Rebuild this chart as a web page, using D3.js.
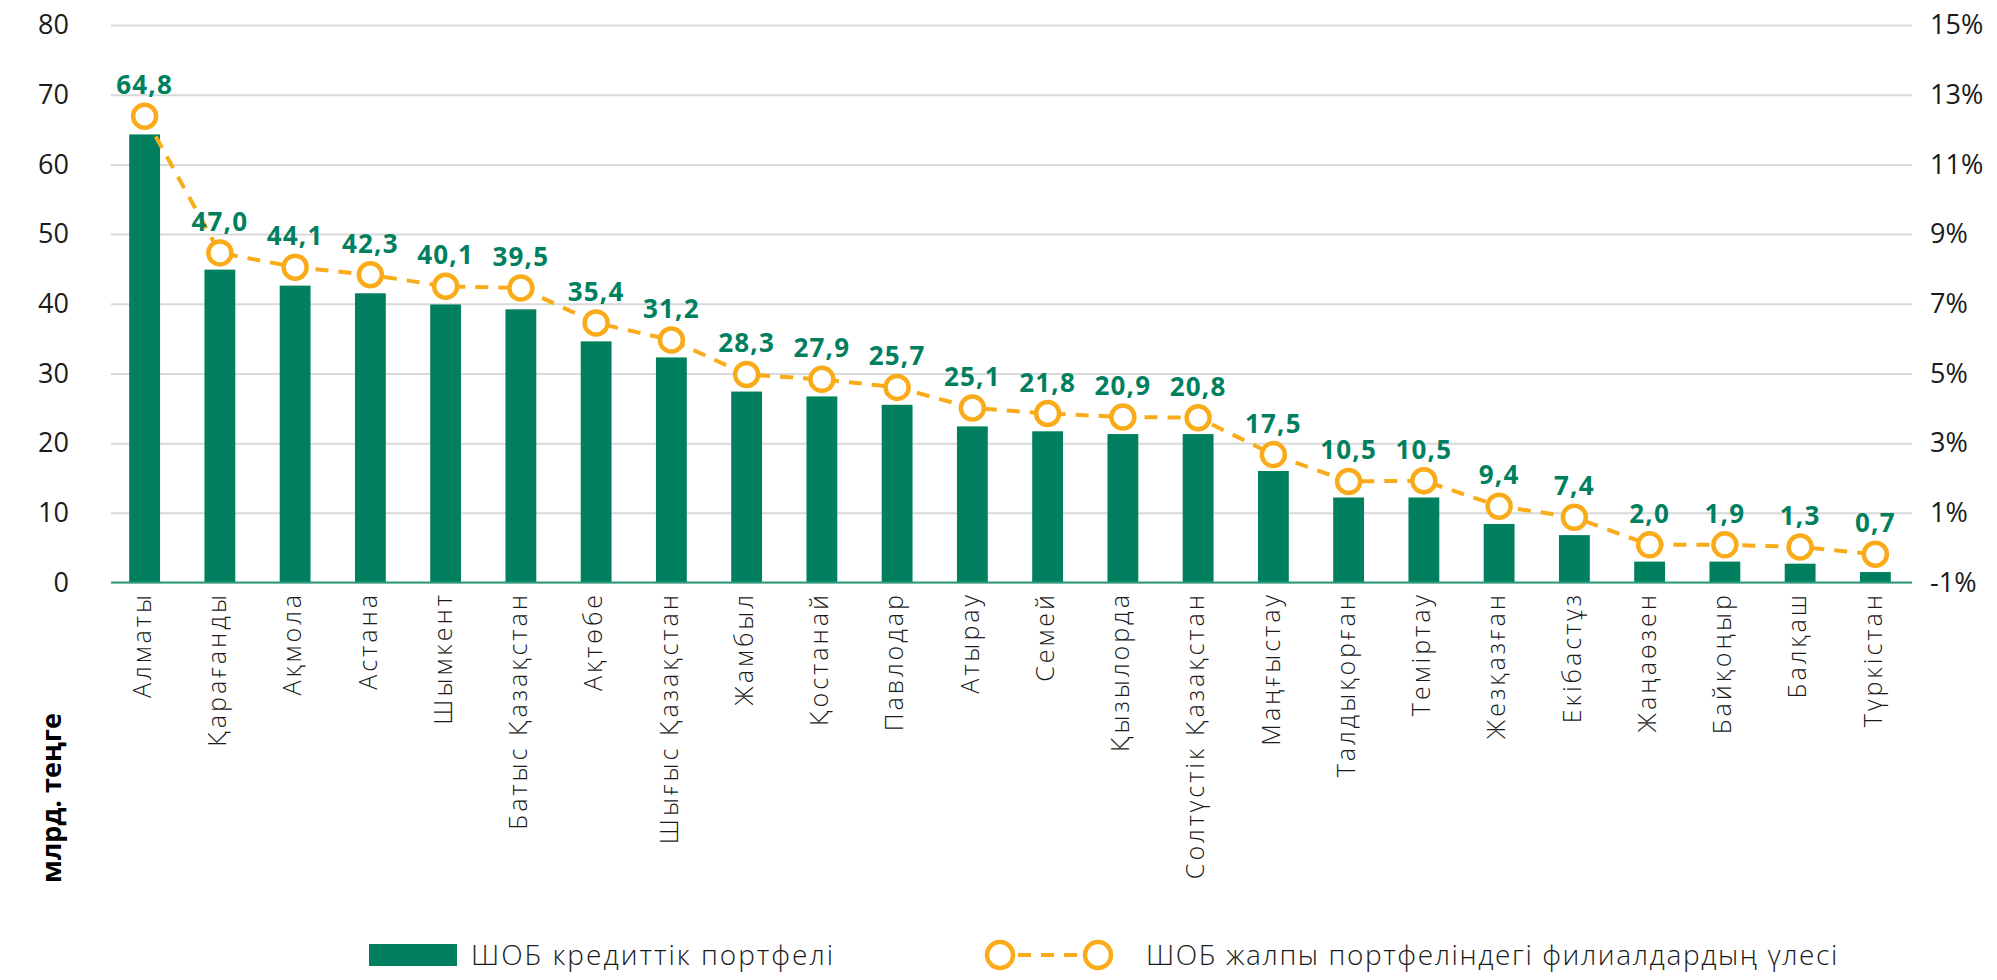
<!DOCTYPE html>
<html>
<head>
<meta charset="utf-8">
<script src="https://cdn.jsdelivr.net/npm/d3@7"></script>
<style>
  body { margin: 0; background: #fff; }
  svg { display: block; font-family: "Open Sans", sans-serif; }
</style>
</head>
<body>
<div id="chart"></div>
<script>
const categories = ['Алматы', 'Қарағанды', 'Ақмола', 'Астана', 'Шымкент', 'Батыс Қазақстан', 'Ақтөбе',
  'Шығыс Қазақстан', 'Жамбыл', 'Қостанай', 'Павлодар', 'Атырау', 'Семей', 'Қызылорда',
  'Солтүстік Қазақстан', 'Маңғыстау', 'Талдықорған', 'Теміртау', 'Жезқазған', 'Екібастұз',
  'Жаңаөзен', 'Байқоңыр', 'Балқаш', 'Түркістан'];

// bar heights, bn tenge (left axis)
const portfolio = [64.3, 44.9, 42.6, 41.5, 39.9, 39.2, 34.6, 32.3, 27.4, 26.7, 25.5, 22.4,
  21.7, 21.3, 21.3, 16.0, 12.2, 12.2, 8.4, 6.8, 3.0, 3.0, 2.7, 1.5];

// share of branches in total portfolio, % (right axis)
const shares = [12.38, 8.46, 8.05, 7.83, 7.5, 7.45, 6.45, 5.96, 4.97, 4.83, 4.6, 4.01,
  3.85, 3.75, 3.73, 2.67, 1.9, 1.92, 1.19, 0.87, 0.08, 0.08, 0.02, -0.19];

const valueLabels = ['64,8', '47,0', '44,1', '42,3', '40,1', '39,5', '35,4', '31,2', '28,3', '27,9',
  '25,7', '25,1', '21,8', '20,9', '20,8', '17,5', '10,5', '10,5', '9,4', '7,4', '2,0', '1,9', '1,3', '0,7'];

const leftTicks = [0, 10, 20, 30, 40, 50, 60, 70, 80];
const rightTicks = [-1, 1, 3, 5, 7, 9, 11, 13, 15];

const legendLabels = ['ШОБ кредиттік портфелі', 'ШОБ жалпы портфеліндегі филиалдардың үлесі'];
const yTitle = 'млрд. теңге';

const width = 1997, height = 980;
const green = '#00805f';
const orange = '#faab19';
const ink = '#1b1b1b';

const plotLeft = 111, plotRight = 1912, plotTop = 25, plotBottom = 582.5;

const svg = d3.select('#chart').append('svg')
  .attr('width', width)
  .attr('height', height);

const x = d3.scaleBand()
  .domain(categories)
  .range([107, 1913])
  .paddingInner(0.59)
  .paddingOuter(0.295);

const yLeft = d3.scaleLinear().domain([0, 80]).range([plotBottom, plotTop]);
const yRight = d3.scaleLinear().domain([-1, 15]).range([plotBottom, plotTop]);

const cx = d => x(d) + x.bandwidth() / 2;

// left axis + gridlines
const gLeft = svg.append('g')
  .attr('transform', `translate(${plotLeft},0)`)
  .call(d3.axisLeft(yLeft).tickValues(leftTicks).tickSize(-(plotRight - plotLeft)).tickPadding(42));
gLeft.select('.domain').remove();
gLeft.selectAll('.tick line').attr('stroke', '#d9d9d9').attr('stroke-width', 2);
gLeft.selectAll('.tick text')
  .attr('fill', ink)
  .style('font-size', '27px')
  .style('font-family', '"Open Sans", sans-serif');

// right axis
const gRight = svg.append('g')
  .attr('transform', `translate(${plotRight},0)`)
  .call(d3.axisRight(yRight).tickValues(rightTicks).tickSize(0).tickPadding(18).tickFormat(d => d + '%'));
gRight.select('.domain').remove();
gRight.selectAll('.tick text')
  .attr('fill', ink)
  .style('font-size', '27px')
  .style('font-family', '"Open Sans", sans-serif');

// bars
svg.append('g').selectAll('rect')
  .data(categories)
  .join('rect')
  .attr('x', d => x(d))
  .attr('width', x.bandwidth())
  .attr('y', (d, i) => yLeft(portfolio[i]))
  .attr('height', (d, i) => yLeft(0) - yLeft(portfolio[i]))
  .attr('fill', green);

// baseline
svg.append('line')
  .attr('x1', plotLeft).attr('x2', plotRight)
  .attr('y1', yLeft(0)).attr('y2', yLeft(0))
  .attr('stroke', '#2a9c7a')
  .attr('stroke-width', 2);

// share line
const line = d3.line()
  .x((d, i) => cx(categories[i]))
  .y(d => yRight(d));

svg.append('path')
  .datum(shares)
  .attr('d', line)
  .attr('fill', 'none')
  .attr('stroke', orange)
  .attr('stroke-width', 4)
  .attr('stroke-dasharray', '13,10');

svg.append('g').selectAll('circle')
  .data(shares)
  .join('circle')
  .attr('cx', (d, i) => cx(categories[i]))
  .attr('cy', d => yRight(d))
  .attr('r', 11.5)
  .attr('fill', '#fff')
  .attr('stroke', orange)
  .attr('stroke-width', 4.5);

// value labels
svg.append('g').selectAll('text')
  .data(valueLabels)
  .join('text')
  .attr('x', (d, i) => cx(categories[i]))
  .attr('y', (d, i) => yRight(shares[i]) - 22)
  .attr('text-anchor', 'middle')
  .attr('fill', green)
  .style('font-size', '26px')
  .style('font-weight', 700)
  .style('letter-spacing', '1.2px')
  .text(d => d);

// category labels
svg.append('g').selectAll('text')
  .data(categories)
  .join('text')
  .attr('transform', d => `translate(${cx(d)},592) rotate(-90)`)
  .attr('text-anchor', 'end')
  .attr('dy', '0.25em')
  .attr('fill', ink)
  .style('font-size', '25px')
  .style('font-weight', 300)
  .style('letter-spacing', '3px')
  .text(d => d);

// y axis title
svg.append('text')
  .attr('transform', 'translate(52,798) rotate(-90)')
  .attr('text-anchor', 'middle')
  .attr('dy', '0.35em')
  .attr('fill', '#000')
  .style('font-size', '27px')
  .style('font-weight', 700)
  .text(yTitle);

// legend
const legend = svg.append('g');
legend.append('rect')
  .attr('x', 369).attr('y', 944)
  .attr('width', 88).attr('height', 22)
  .attr('fill', green);
legend.append('text')
  .attr('x', 471).attr('y', 955)
  .attr('dy', '0.35em')
  .attr('fill', ink)
  .style('font-size', '28px')
  .style('font-weight', 300)
  .style('letter-spacing', '2px')
  .text(legendLabels[0]);

legend.append('line')
  .attr('x1', 1000).attr('x2', 1098)
  .attr('y1', 955).attr('y2', 955)
  .attr('stroke', orange)
  .attr('stroke-width', 4)
  .attr('stroke-dasharray', '13,10')
  .attr('stroke-dashoffset', -18);
legend.selectAll('circle')
  .data([1000, 1098])
  .join('circle')
  .attr('cx', d => d).attr('cy', 955)
  .attr('r', 13)
  .attr('fill', '#fff')
  .attr('stroke', orange)
  .attr('stroke-width', 4.5);
legend.append('text')
  .attr('x', 1146).attr('y', 955)
  .attr('dy', '0.35em')
  .attr('fill', ink)
  .style('font-size', '28px')
  .style('font-weight', 300)
  .style('letter-spacing', '1.6px')
  .text(legendLabels[1]);
</script>
</body>
</html>
